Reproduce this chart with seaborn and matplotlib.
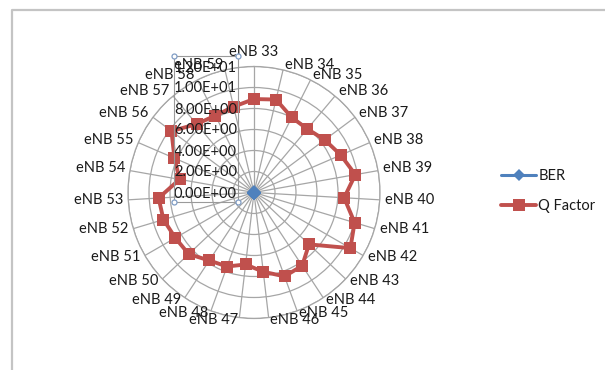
import numpy as np
import pandas as pd
import matplotlib
matplotlib.use("Agg")
import matplotlib.pyplot as plt
import matplotlib.transforms as mtransforms
from matplotlib.lines import Line2D
from matplotlib.patches import Rectangle
import seaborn as sns

# ---- data -----------------------------------------------------------------
categories = ["eNB 33", "eNB 34", "eNB 35", "eNB 36", "eNB 37", "eNB 38", "eNB 39",
              "eNB 40", "eNB 41", "eNB 42", "eNB 43", "eNB 44", "eNB 45", "eNB 46",
              "eNB 47", "eNB 48", "eNB 49", "eNB 50", "eNB 51", "eNB 52", "eNB 53",
              "eNB 54", "eNB 55", "eNB 56", "eNB 57", "eNB 58", "eNB 59"]

q_factor = [8.9, 9.1, 8.0, 7.9, 8.4, 9.0, 9.8, 8.6, 10.0, 10.6, 7.2, 8.35, 8.5, 7.6,
            6.9, 7.5, 7.75, 8.55, 8.65, 9.0, 9.1, 7.2, 8.25, 9.8, 8.5, 8.2, 8.4]

ber = [2.1e-19, 4.7e-20, 7.6e-16, 1.4e-15, 3.3e-17, 1.0e-19, 1.2e-22, 4.1e-18,
       7.6e-24, 1.5e-26, 3.0e-13, 3.4e-17, 9.5e-18, 1.5e-14, 2.6e-12, 3.2e-14,
       4.6e-15, 5.6e-18, 2.4e-18, 1.1e-19, 4.5e-20, 3.0e-13, 7.9e-17, 5.4e-23,
       9.5e-18, 1.2e-16, 2.3e-17]

radial_ticks = [0, 2, 4, 6, 8, 10, 12]
series_names = ["BER", "Q Factor"]

# ---- style ----------------------------------------------------------------
sns.set_style("white")
plt.rcParams["font.family"] = ["Lato", "DejaVu Sans"]
FS = 10.5
TXT = "#1a1a1a"
GRID = "#a6a6a6"
BLUE = "#4F81BD"
RED = "#C0504D"

W, H = 605, 370
fig = plt.figure(figsize=(W / 100, H / 100), dpi=100)

def fx(px):
    return px / W

def fy(py):
    return 1 - py / H

# polar plot area: centre and outer radius in pixels
cx, cy, R = 254, 192.5, 126
ax = fig.add_axes([fx(cx - R), fy(cy + R), 2 * R / W, 2 * R / H], projection="polar")
ax.set_theta_zero_location("N")
ax.set_theta_direction(-1)

n = len(categories)
theta = np.arange(n) * 2 * np.pi / n
theta_closed = np.append(theta, 2 * np.pi)

df = pd.DataFrame({
    "theta": np.concatenate([theta_closed, theta_closed]),
    "value": np.concatenate([np.append(ber, ber[0]), np.append(q_factor, q_factor[0])]),
    "series": [series_names[0]] * (n + 1) + [series_names[1]] * (n + 1),
})

sns.lineplot(data=df[df.series == "Q Factor"], x="theta", y="value", ax=ax,
             sort=False, estimator=None, color=RED, linewidth=2.8,
             marker="s", markersize=8.5, markeredgewidth=0, legend=False, zorder=4)
sns.lineplot(data=df[df.series == "BER"], x="theta", y="value", ax=ax,
             sort=False, estimator=None, color=BLUE, linewidth=2.2,
             marker="D", markersize=7, markeredgewidth=0, legend=False, zorder=5)

ax.set_ylim(0, 12)
ax.set_yticks(radial_ticks)
ax.set_yticklabels([])
ax.set_xticks(theta)
ax.set_xticklabels([])
ax.set_xlabel("")
ax.set_ylabel("")
ax.grid(True, color=GRID, linewidth=0.9)
ax.spines["polar"].set_color(GRID)
ax.spines["polar"].set_linewidth(0.9)
ax.tick_params(length=0)

# category labels around the outer ring
for t, lab in zip(theta, categories):
    s, c = np.sin(t), np.cos(t)
    if abs(s) < 1e-6:
        ha = "center"
        dx = 0
        dy = 15 if c > 0 else -15
    else:
        ha = "left" if s > 0 else "right"
        dx = np.sign(s) * (1 + 4 * abs(s))
        dy = 1.5 + 4 * c if c > 0 else 2.5 * c
    tr = mtransforms.offset_copy(ax.transData, fig=fig, x=dx, y=dy, units="dots")
    ax.text(t, 12, lab, transform=tr, ha=ha, va="center", fontsize=FS,
            color=TXT, clip_on=False, zorder=6)

# radial value labels along the top spoke
for v in radial_ticks:
    tr = mtransforms.offset_copy(ax.transData, fig=fig, x=-17, y=-1, units="dots")
    ax.text(0, v, f"{v:.2E}", transform=tr, ha="right", va="center",
            fontsize=FS, color=TXT, clip_on=False, zorder=6)

# frame around the value labels with its corner handles
bx0, by0, bx1, by1 = 173.5, 55.7, 237.5, 201.7
fig.add_artist(Rectangle((fx(bx0), fy(by1)), fx(bx1) - fx(bx0), fy(by0) - fy(by1),
                         transform=fig.transFigure, fill=False,
                         edgecolor="#9a9a9a", linewidth=0.8, zorder=7))
fig.add_artist(Line2D([fx(bx0), fx(bx1), fx(bx0), fx(bx1)],
                      [fy(by0), fy(by0), fy(by1), fy(by1)],
                      transform=fig.transFigure, linestyle="none", marker="o",
                      markersize=3.6, markerfacecolor="white",
                      markeredgecolor="#7f9cc4", markeredgewidth=0.9, zorder=8))

# chart area border (top and left edges)
fig.add_artist(Line2D([fx(12), fx(12), fx(W)], [fy(H), fy(10), fy(10)],
                      transform=fig.transFigure, color="#c4c4c4", linewidth=1.6))

# legend
handles = [
    Line2D([], [], color=BLUE, linewidth=2.2, marker="D", markersize=6, markeredgewidth=0),
    Line2D([], [], color=RED, linewidth=2.8, marker="s", markersize=8, markeredgewidth=0),
]
fig.legend(handles, series_names, loc="center left",
           bbox_to_anchor=(fx(501), fy(191)), frameon=False, fontsize=FS,
           handlelength=2.4, handletextpad=0.15, labelspacing=1.15,
           borderpad=0, borderaxespad=0, labelcolor=TXT)

fig.savefig("out.png", dpi=100, facecolor="white")
